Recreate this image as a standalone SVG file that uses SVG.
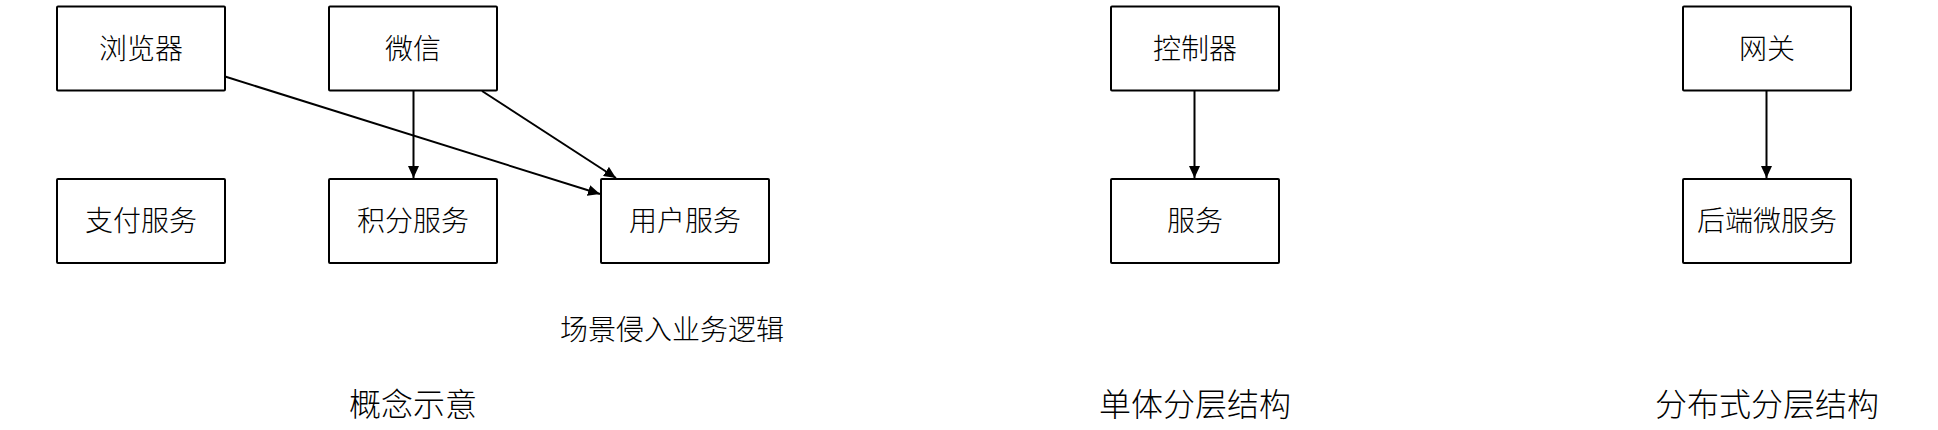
<svg xmlns="http://www.w3.org/2000/svg" width="1938" height="430" viewBox="0 0 1938 430">
<style>
.box{fill:#ffffff;stroke:#000000;stroke-width:2}
.lbl{font-family:"Noto Sans CJK SC","Noto Sans",sans-serif;font-size:28px;font-weight:300;fill:#000000;text-anchor:middle;dominant-baseline:central}
.cap{font-family:"Noto Sans CJK SC","Noto Sans",sans-serif;font-size:32px;font-weight:300;fill:#000000;text-anchor:middle;dominant-baseline:central}
.edge{fill:none;stroke:#000000;stroke-width:2}
</style>
<defs>
<marker id="arr" markerUnits="userSpaceOnUse" markerWidth="12" markerHeight="11" refX="12" refY="5.5" orient="auto">
<path d="M0,0 L12,5.5 L0,11 z" fill="#000000"/>
</marker>
</defs>
<rect width="1938" height="430" fill="#ffffff"/>
<g id="n-browser"><rect class="box" x="57" y="6.5" width="168" height="84" rx="1"/><text class="lbl" x="141" y="46.5">浏览器</text></g>
<g id="n-wechat"><rect class="box" x="329" y="6.5" width="168" height="84" rx="1"/><text class="lbl" x="413" y="46.5">微信</text></g>
<g id="n-pay"><rect class="box" x="57" y="179" width="168" height="84" rx="1"/><text class="lbl" x="141" y="219">支付服务</text></g>
<g id="n-points"><rect class="box" x="329" y="179" width="168" height="84" rx="1"/><text class="lbl" x="413" y="219">积分服务</text></g>
<g id="n-user"><rect class="box" x="601" y="179" width="168" height="84" rx="1"/><text class="lbl" x="685" y="219">用户服务</text></g>
<g id="n-controller"><rect class="box" x="1111" y="6.5" width="168" height="84" rx="1"/><text class="lbl" x="1195" y="46.5">控制器</text></g>
<g id="n-service"><rect class="box" x="1111" y="179" width="168" height="84" rx="1"/><text class="lbl" x="1195" y="219">服务</text></g>
<g id="n-gateway"><rect class="box" x="1683" y="6.5" width="168" height="84" rx="1"/><text class="lbl" x="1767" y="46.5">网关</text></g>
<g id="n-micro"><rect class="box" x="1683" y="179" width="168" height="84" rx="1"/><text class="lbl" x="1767" y="219">后端微服务</text></g>
<g id="connectors">
<line class="edge" x1="225" y1="76.5" x2="600" y2="194" marker-end="url(#arr)"/>
<line class="edge" x1="413.5" y1="90.5" x2="413.5" y2="178" marker-end="url(#arr)"/>
<line class="edge" x1="482" y1="91" x2="616" y2="178" marker-end="url(#arr)"/>
<line class="edge" x1="1194.5" y1="90.5" x2="1194.5" y2="178" marker-end="url(#arr)"/>
<line class="edge" x1="1766.5" y1="90.5" x2="1766.5" y2="178" marker-end="url(#arr)"/>
</g>
<g id="captions">
<text class="lbl" x="672" y="328">场景侵入业务逻辑</text>
<text class="cap" x="413" y="401.5">概念示意</text>
<text class="cap" x="1195" y="401.5">单体分层结构</text>
<text class="cap" x="1767" y="401.5">分布式分层结构</text>
</g>
</svg>
